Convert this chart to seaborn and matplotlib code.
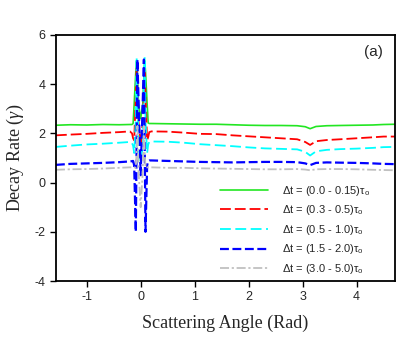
import numpy as np
import pandas as pd
import matplotlib
matplotlib.use('Agg')
import matplotlib.pyplot as plt
import seaborn as sns

# --- Data ---
angle = [-1.57, -1.3, -1.0, -0.7, -0.4, -0.2, -0.16, -0.14, -0.12, -0.09, -0.075, -0.06, -0.04,
         0.0, 0.04, 0.06, 0.075, 0.09, 0.12, 0.14, 0.16, 0.2, 0.5, 0.8, 1.1, 1.4, 1.7, 2.0,
         2.3, 2.6, 2.9, 3.05, 3.14, 3.25, 3.45, 3.7, 4.0, 4.3, 4.5, 4.71]

rate_a = [2.33, 2.35, 2.34, 2.36, 2.35, 2.36, 2.36, 2.40, 3.20, 4.50, 4.95, 4.30, 3.20,
          2.60, 3.20, 4.30, 4.95, 4.50, 3.20, 2.42, 2.40, 2.40, 2.39, 2.38, 2.37, 2.37, 2.35, 2.33,
          2.32, 2.32, 2.31, 2.27, 2.19, 2.28, 2.31, 2.32, 2.33, 2.34, 2.36, 2.37]
rate_b = [1.92, 1.95, 1.98, 2.02, 2.05, 2.08, 2.00, 1.80, 1.72, 3.50, 4.65, 3.80, 2.50,
          1.50, 2.50, 3.80, 4.65, 3.50, 1.72, 1.85, 2.05, 2.08, 2.07, 2.03, 1.98, 1.97, 1.92, 1.88,
          1.84, 1.80, 1.76, 1.65, 1.53, 1.68, 1.73, 1.76, 1.80, 1.84, 1.87, 1.87]
rate_c = [1.45, 1.50, 1.55, 1.58, 1.62, 1.65, 1.60, 1.50, 1.20, 2.50, 5.10, 4.00, 1.50,
          0.80, 1.50, 4.00, 5.10, 2.50, 1.20, 1.55, 1.65, 1.67, 1.66, 1.62, 1.56, 1.52, 1.48, 1.43,
          1.39, 1.37, 1.35, 1.25, 1.10, 1.27, 1.33, 1.36, 1.38, 1.41, 1.44, 1.45]
rate_d = [0.72, 0.76, 0.78, 0.80, 0.83, 0.86, 0.87, 0.88, 0.70, -2.00, 1.50, 5.00, 3.40,
          0.30, 3.40, 5.00, 1.50, -2.00, 0.70, 0.88, 0.90, 0.90, 0.88, 0.86, 0.84, 0.83, 0.82, 0.83,
          0.84, 0.84, 0.83, 0.78, 0.71, 0.80, 0.82, 0.81, 0.80, 0.78, 0.76, 0.75]
rate_e = [0.52, 0.54, 0.55, 0.57, 0.60, 0.62, 0.62, 0.62, 0.62, 0.60, 1.20, 2.30, 0.50,
          -1.00, 0.50, 2.30, 1.20, 0.60, 0.62, 0.62, 0.62, 0.62, 0.60, 0.60, 0.58, 0.57, 0.56, 0.55,
          0.54, 0.54, 0.55, 0.53, 0.50, 0.54, 0.55, 0.55, 0.54, 0.52, 0.51, 0.50]

labels = [r"Δt = (0.0 - 0.15)τ$_{\mathrm{o}}$",
          r"Δt = (0.3 - 0.5)τ$_{\mathrm{o}}$",
          r"Δt = (0.5 - 1.0)τ$_{\mathrm{o}}$",
          r"Δt = (1.5 - 2.0)τ$_{\mathrm{o}}$",
          r"Δt = (3.0 - 5.0)τ$_{\mathrm{o}}$"]
colors = ["#22e622", "#ff0000", "#00ffff", "#0000ff", "#c0c0c0"]
styles = ["-", (0, (6, 2.2)), (0, (6, 2.5)), (0, (4, 1.6)), (0, (5, 1.5, 1.2, 1.5))]
widths = [1.2, 1.3, 1.3, 1.6, 1.3]

# --- Style ---
sns.set_style("ticks")
plt.rcParams.update({
    "font.family": ["Liberation Sans", "DejaVu Sans"],
    "mathtext.fontset": "custom",
    "mathtext.rm": "Liberation Sans",
    "mathtext.it": "Liberation Serif:italic",
    "axes.unicode_minus": False,
})

fig = plt.figure(figsize=(4.14, 3.39), dpi=100)
ax = fig.add_axes([0.135, 0.171, 0.819, 0.726])

series = [rate_a, rate_b, rate_c, rate_d, rate_e]
for vals, lab, col, ls, lw in zip(series, labels, colors, styles, widths):
    df = pd.DataFrame({"angle": angle, "rate": vals})
    sns.lineplot(data=df, x="angle", y="rate", ax=ax, color=col, linestyle=ls,
                 linewidth=lw, label=lab, sort=False, estimator=None)

ax.set_xlim(-np.pi / 2, 3 * np.pi / 2)
ax.set_ylim(-4, 6)
ax.set_xticks([-1, 0, 1, 2, 3, 4])
ax.set_yticks([-4, -2, 0, 2, 4, 6])
ax.tick_params(direction="out", length=4, width=1, labelsize=9, color="black")
for sp in ax.spines.values():
    sp.set_visible(True)
    sp.set_linewidth(1.3)
    sp.set_color("black")

ax.set_xlabel("Scattering Angle (Rad)", fontsize=13, family="Liberation Serif", labelpad=8)
ax.set_ylabel(r"Decay Rate ($\gamma$)", fontsize=13, family="Liberation Serif", labelpad=6)

ax.text(0.938, 0.93, "(a)", transform=ax.transAxes, fontsize=11, ha="center", va="center")

ax.legend(loc="lower right", bbox_to_anchor=(0.955, -0.02), frameon=False, fontsize=8,
          handlelength=4.3, handletextpad=1.2, labelspacing=0.5)

plt.savefig("out.png", dpi=100)
